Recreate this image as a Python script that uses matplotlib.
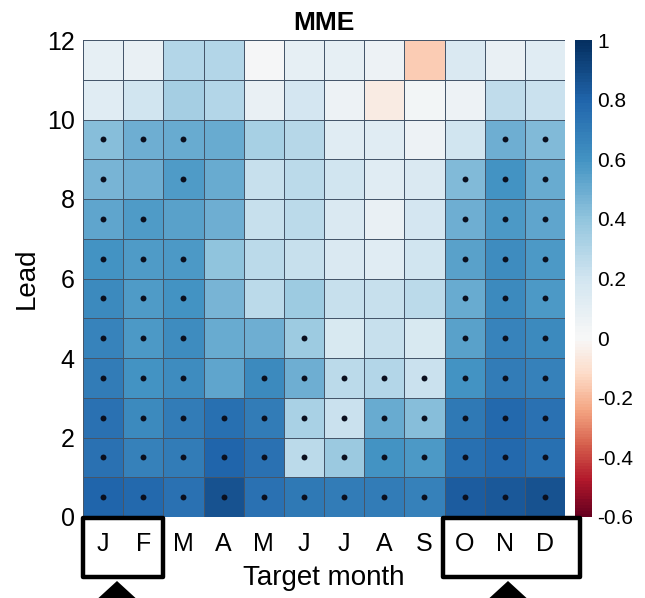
import numpy as np
import matplotlib
matplotlib.use('Agg')
import matplotlib.pyplot as plt
from matplotlib.colors import ListedColormap, Normalize
from matplotlib.patches import Rectangle, Polygon

plt.rcParams['font.family'] = ['Liberation Sans', 'DejaVu Sans']

months = ['J', 'F', 'M', 'A', 'M', 'J', 'J', 'A', 'S', 'O', 'N', 'D']

# correlation skill, rows = lead 0..11 (bottom to top), cols = target month J..D
skill = np.array([
    [0.80, 0.78, 0.74, 0.86, 0.74, 0.72, 0.70, 0.70, 0.68, 0.82, 0.84, 0.86],  # lead 0
    [0.74, 0.68, 0.70, 0.80, 0.74, 0.28, 0.38, 0.60, 0.58, 0.76, 0.78, 0.76],  # lead 1
    [0.74, 0.64, 0.70, 0.76, 0.70, 0.32, 0.22, 0.50, 0.42, 0.72, 0.78, 0.74],  # lead 2
    [0.70, 0.60, 0.62, 0.52, 0.64, 0.48, 0.28, 0.30, 0.22, 0.60, 0.70, 0.68],  # lead 3
    [0.66, 0.58, 0.62, 0.50, 0.48, 0.36, 0.16, 0.24, 0.16, 0.54, 0.66, 0.64],  # lead 4
    [0.64, 0.56, 0.60, 0.46, 0.28, 0.36, 0.24, 0.24, 0.28, 0.50, 0.64, 0.58],  # lead 5
    [0.60, 0.56, 0.58, 0.40, 0.28, 0.24, 0.15, 0.12, 0.20, 0.54, 0.62, 0.58],  # lead 6
    [0.52, 0.56, 0.54, 0.48, 0.24, 0.28, 0.15, 0.08, 0.18, 0.48, 0.58, 0.52],  # lead 7
    [0.46, 0.48, 0.56, 0.51, 0.24, 0.27, 0.20, 0.12, 0.15, 0.44, 0.60, 0.51],  # lead 8
    [0.43, 0.48, 0.51, 0.51, 0.34, 0.29, 0.12, 0.12, 0.05, 0.20, 0.48, 0.44],  # lead 9
    [0.12, 0.20, 0.35, 0.30, 0.08, 0.18, 0.05, -0.05, 0.03, 0.05, 0.25, 0.22],  # lead 10
    [0.10, 0.08, 0.30, 0.30, 0.02, 0.10, 0.10, 0.05, -0.15, 0.15, 0.08, 0.12],  # lead 11
])

# 1 = significant (dot)
signif = np.array([
    [1, 1, 1, 1, 1, 1, 1, 1, 1, 1, 1, 1],
    [1, 1, 1, 1, 1, 1, 1, 1, 1, 1, 1, 1],
    [1, 1, 1, 1, 1, 1, 1, 1, 1, 1, 1, 1],
    [1, 1, 1, 0, 1, 1, 1, 1, 1, 1, 1, 1],
    [1, 1, 1, 0, 0, 1, 0, 0, 0, 1, 1, 1],
    [1, 1, 1, 0, 0, 0, 0, 0, 0, 1, 1, 1],
    [1, 1, 1, 0, 0, 0, 0, 0, 0, 1, 1, 1],
    [1, 1, 0, 0, 0, 0, 0, 0, 0, 1, 1, 1],
    [1, 0, 1, 0, 0, 0, 0, 0, 0, 1, 1, 1],
    [1, 1, 1, 0, 0, 0, 0, 0, 0, 0, 1, 1],
    [0, 0, 0, 0, 0, 0, 0, 0, 0, 0, 0, 0],
    [0, 0, 0, 0, 0, 0, 0, 0, 0, 0, 0, 0],
])

vmin, vmax = -0.6, 1.0

# asymmetric diverging map: white at 0
base = plt.get_cmap('RdBu')
cols = np.vstack([base(np.linspace(0.0, 0.5, 60)), base(np.linspace(0.5, 1.0, 100))])
cmap = ListedColormap(cols)
norm = Normalize(vmin=vmin, vmax=vmax)

W, H = 645, 598
fig = plt.figure(figsize=(W / 100, H / 100), dpi=100)
ax = fig.add_axes([83 / W, 1 - 517 / H, 482 / W, 477 / H])

x_edges = np.arange(13)
y_edges = np.arange(13)
mesh = ax.pcolormesh(x_edges, y_edges, skill, cmap=cmap, norm=norm,
                     edgecolor='#45566a', linewidth=0.6)

yy, xx = np.nonzero(signif)
ax.scatter(xx + 0.5, yy + 0.5, s=18, color='#0a0f1e', zorder=3, linewidths=0)

ax.set_xlim(0, 12)
ax.set_ylim(0, 12)
ax.set_xticks(np.arange(12) + 0.5)
ax.set_xticklabels(months, fontsize=18)
ax.set_yticks(np.arange(0, 13, 2))
ax.set_yticklabels([str(v) for v in range(0, 13, 2)], fontsize=18)
ax.tick_params(length=0)
ax.tick_params(axis='y', pad=6)
ax.tick_params(axis='x', pad=11)
for s in ax.spines.values():
    s.set_visible(False)
ax.set_xlabel('Target month', fontsize=20, labelpad=6)
ax.set_ylabel('Lead', fontsize=20, labelpad=5)
ax.set_title('MME', fontsize=19, fontweight='bold', pad=7)

cax = fig.add_axes([575 / W, 1 - 517 / H, 17 / W, 477 / H])
cb = fig.colorbar(mesh, cax=cax, ticks=np.round(np.arange(-0.6, 1.01, 0.2), 1))
cb.ax.set_yticklabels(['-0.6', '-0.4', '-0.2', '0', '0.2', '0.4', '0.6', '0.8', '1'])
cb.ax.tick_params(labelsize=15, length=0, pad=4)
cb.outline.set_visible(False)

# highlight boxes and arrows below the month labels
def px(x, y):
    return (x / W, 1 - y / H)

for x0, x1 in [(83, 163), (443, 580)]:
    fig.patches.append(Rectangle(px(x0, 577), (x1 - x0) / W, 59 / H,
                                 transform=fig.transFigure, fill=False,
                                 edgecolor='black', linewidth=3.2, joinstyle='round'))

for xc in [117, 508]:
    fig.patches.append(Polygon([px(xc - 24, 603), px(xc, 581), px(xc + 24, 603)],
                               closed=True, transform=fig.transFigure,
                               facecolor='black', edgecolor='none'))

fig.savefig('out.png', dpi=100)
